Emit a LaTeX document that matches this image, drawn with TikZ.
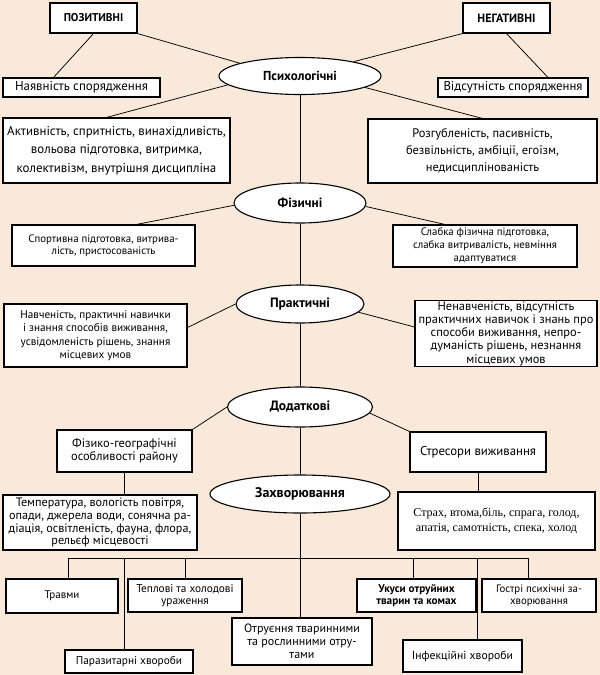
\documentclass[tikz,border=0pt]{standalone}
\usepackage{fontspec}
\setmainfont{PT Sans}
\newfontfamily\serifbox{Liberation Serif}
\usetikzlibrary{shapes.geometric}
\definecolor{bg}{RGB}{249,233,219}
\newcommand{\fs}[2]{\fontsize{#1}{#2}\selectfont}
\begin{document}
\begin{tikzpicture}[x=1pt,y=-1pt,
  box/.style={draw,fill=white,line width=1.1pt,align=center,inner sep=1pt,font=\fs{11}{13}},
  oval/.style={ellipse,draw,fill=white,line width=1.1pt,inner sep=0pt,font=\bfseries\fs{13.3}{15}},
  link/.style={line width=0.75pt}]
\fill[bg] (0,0) rectangle (600,675);
\useasboundingbox (0,0) rectangle (600,675);

% top
\node[box,minimum width=87pt,minimum height=30pt,font=\bfseries\fs{11.3}{13}] (poz) at (93.5,18) {ПОЗИТИВНІ};
\node[box,minimum width=87pt,minimum height=30pt,font=\bfseries\fs{12}{13}] (neg) at (506.5,18) {НЕГАТИВНІ};
\node[oval,minimum width=162pt,minimum height=37pt,font=\bfseries\fs{13}{15}] (psy) at (300,76) {Психологічні};
\node[box,minimum width=157pt,minimum height=19pt,font=\fs{12.9}{14}] (nay) at (81.5,87.5) {Наявність спорядження};
\node[box,minimum width=150pt,minimum height=19pt,font=\fs{12.8}{14}] (vid) at (513,87.5) {Відсутність спорядження};
\node[box,minimum width=227pt,minimum height=65pt,font=\fs{12.9}{18.5}] (akt) at (116.5,150.5) {Активність, спритність, винахідливість,\\вольова підготовка, витримка,\\колективізм, внутрішня дисципліна};
\node[box,minimum width=229pt,minimum height=64pt,font=\fs{12.4}{17}] (roz) at (482.5,151) {Розгубленість, пасивність,\\безвільність, амбіції, егоїзм,\\недисциплінованість};

% physical
\node[oval,minimum width=132pt,minimum height=40pt] (fiz) at (300,203) {Фізичні};
\node[box,minimum width=183pt,minimum height=41pt,font=\fs{10.8}{12}] (sport) at (103.5,245.5) {Спортивна підготовка, витрива-\\лість, пристосованість};
\node[box,minimum width=184pt,minimum height=42pt,font=\fs{10.8}{13}] (slab) at (485,246) {Слабка фізична підготовка,\\слабка витривалість, невміння\\адаптуватися};

% practical
\node[oval,minimum width=128pt,minimum height=38pt,font=\bfseries\fs{13.5}{15}] (prak) at (300,304) {Практичні};
\node[box,minimum width=183pt,minimum height=63pt,font=\fs{11.2}{13.5}] (navch) at (95.5,335.5) {Навченість, практичні навички\\і знання способів виживання,\\усвідомленість рішень, знання\\місцевих умов};
\node[box,minimum width=182pt,minimum height=65pt,font=\fs{12.4}{13.2}] (nenav) at (506,333.5) {Ненавченість, відсутність\\практичних навичок і знань про\\способи виживання, непро-\\думаність рішень, незнання\\місцевих умов};

% additional
\node[oval,minimum width=145pt,minimum height=40pt,font=\bfseries\fs{13.5}{15}] (dod) at (300,407) {Додаткові};
\node[box,minimum width=135pt,minimum height=42pt,font=\fs{12.4}{12.8}] (fizgeo) at (124.5,451) {Фізико-географічні\\особливості району};
\node[box,minimum width=136pt,minimum height=40pt,font=\fs{12.8}{13}] (stres) at (478,452) {Стресори виживання};
\node[oval,minimum width=180pt,minimum height=38pt,font=\bfseries\fs{13.9}{15}] (zakh) at (300,494) {Захворювання};
\node[box,minimum width=194pt,minimum height=55pt,font=\fs{12.2}{12.8}] (temp) at (100,522.5) {Температура, вологість повітря,\\опади, джерела води, сонячна ра-\\діація, освітленість, фауна, флора,\\рельєф місцевості};
\node[box,minimum width=197pt,minimum height=58pt,font=\serifbox\fs{12}{15}] (strakh) at (496.5,521) {Страх, втома,біль, спрага, голод,\\апатія, самотність, спека, холод};

% diseases
\node[box,minimum width=112pt,minimum height=34pt] (travmy) at (62,596) {Травми};
\node[box,minimum width=114pt,minimum height=33pt,font=\fs{11.3}{11.5}] (tepl) at (185,595.5) {Теплові та холодові\\ураження};
\node[box,minimum width=128pt,minimum height=23pt,font=\fs{11.3}{13}] (paraz) at (129,661.5) {Паразитарні хвороби};
\node[box,minimum width=140pt,minimum height=47pt,font=\fs{12}{13}] (otr) at (302,641.5) {Отруєння тваринними\\та рослинними отру-\\тами};
\node[box,minimum width=119pt,minimum height=33pt,font=\bfseries\fs{11.2}{12}] (ukusy) at (416.5,595.5) {Укуси отруйних\\тварин та комах};
\node[box,minimum width=114pt,minimum height=33pt,font=\fs{10.8}{12}] (gostri) at (539,595.5) {Гострі психічні за-\\хворювання};
\node[box,minimum width=119pt,minimum height=32pt,font=\fs{11.7}{13}] (infek) at (462.5,656) {Інфекційні хвороби};

% connectors
\draw[link] (poz.south east) -- (psy.168);
\draw[link] (poz.south) -- ([xshift=-28pt]nay.north);
\draw[link] (psy.187) -- ([xshift=-10pt]akt.north);
\draw[link] (neg.south west) -- (psy.15);
\draw[link] (neg.south) -- ([xshift=35pt]vid.north);
\draw[link] (psy.-10) -- (roz.north);
\draw[link] (psy.south) -- (fiz.north);
\draw[link] (fiz.182) -- ([xshift=33pt]sport.north);
\draw[link] (fiz.-3) -- ([xshift=-40pt]slab.north);
\draw[link] (fiz.south) -- (prak.north);
\draw[link] (prak.west) -- ([yshift=8pt]navch.east);
\draw[link] (prak.-8) -- ([yshift=6.5pt]nenav.west);
\draw[link] (prak.south) -- (dod.north);
\draw[link] (dod.west) -- (fizgeo.north east);
\draw[link] (dod.-5) -- (stres.north west);
\draw[link] (dod.south) -- (zakh.north);
\draw[link] (fizgeo.south) -- (fizgeo.south |- temp.north);
\draw[link] (stres.south) -- (stres.south |- strakh.north);
\draw[link] (zakh.south) -- (zakh.south |- otr.north);

\coordinate (bL) at (68,558);
\coordinate (bP) at (124,558);
\coordinate (bT) at (185,558);
\coordinate (bU) at (413,558);
\coordinate (bI) at (477,558);
\coordinate (bR) at (528,558);
\draw[link] (bL) -- (bR);
\draw[link] (bL) -- (bL |- travmy.north);
\draw[link] (bP) -- (bP |- paraz.north);
\draw[link] (bT) -- (bT |- tepl.north);
\draw[link] (bU) -- (bU |- ukusy.north);
\draw[link] (bI) -- (bI |- infek.north);
\draw[link] (bR) -- (bR |- gostri.north);
\end{tikzpicture}
\end{document}
